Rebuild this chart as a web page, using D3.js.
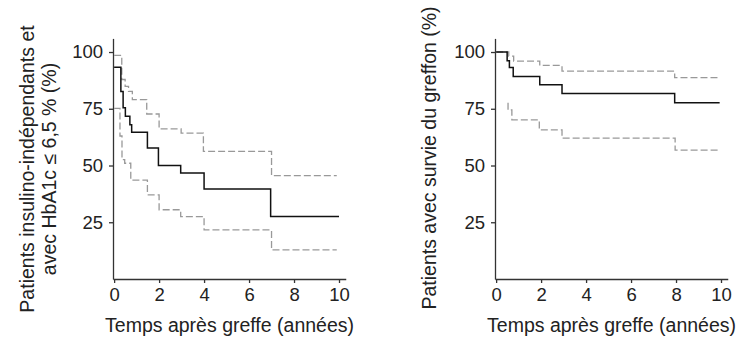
<!DOCTYPE html>
<html><head><meta charset="utf-8">
<script src="https://cdn.jsdelivr.net/npm/d3@7"></script>
<style>body{margin:0;background:#fff}svg{display:block}text{font-family:"Liberation Sans",Arial,sans-serif}</style>
</head><body>
<svg id="c" width="750" height="350"></svg>
<script>
// Panel A: insulin independence with HbA1c <= 6.5 %
const leftEstTimes  = [0, 0.3, 0.4, 0.5, 0.7, 0.78, 1.48, 1.97, 2.96, 4.0, 6.96, 10];
const leftEstValues = [93.3, 82.6, 75.4, 71.7, 68, 64.6, 57.7, 50, 46.7, 39.6, 27.5, 27.5];
const leftUpTimes   = [0, 0.34, 0.49, 0.64, 0.81, 1.45, 2.0, 2.98, 3.97, 7.0, 9.9];
const leftUpValues  = [98.5, 87.9, 84.9, 82.7, 79, 72.7, 66.1, 64.3, 56.2, 45.5, 45.5];
const leftLoTimes   = [0, 0.26, 0.35, 0.47, 0.74, 1.48, 2.0, 2.96, 4.0, 7.0, 9.9];
const leftLoValues  = [75.2, 63, 52.6, 51, 43.6, 37.1, 30.5, 27.5, 21.6, 12.8, 12.8];
// Panel B: graft survival
const rightEstTimes  = [0, 0.49, 0.59, 0.76, 1.94, 2.93, 7.94, 9.94];
const rightEstValues = [100, 96.2, 93.2, 89.2, 85.6, 81.7, 77.7, 77.7];
const rightUpTimes   = [0, 0.56, 0.78, 1.94, 2.93, 7.94, 9.94];
const rightUpValues  = [100, 98.2, 96, 94.1, 91.6, 88.7, 88.7];
const rightLoTimes   = [0.53, 0.53, 0.7, 1.92, 2.93, 7.96, 9.92];
const rightLoValues  = [77.7, 74.5, 70.1, 65.7, 62.1, 56.8, 56.8];

const xTicks = [0, 2, 4, 6, 8, 10];
const yTicks = [25, 50, 75, 100];
const xTitle = "Temps après greffe (années)";
const leftTitle = ["Patients insulino-indépendants et", "avec HbA1c ≤ 6,5 % (%)"];
const rightTitle = ["Patients avec survie du greffon (%)"];

const svg = d3.select("#c");
const zip = (t, v) => t.map((d, i) => ({t: d, v: v[i]}));

function panel(x0, series, titleLines, titleX, titleY) {
  const x = d3.scaleLinear().domain([-0.05, 10.3]).range([x0 - 1, x0 + 231.75]);
  const y = d3.scaleLinear().domain([0, 106]).range([279, 38.4]);
  const g = svg.append("g");
  const xa = g.append("g").attr("transform", "translate(0,279)")
    .call(d3.axisBottom(x).tickValues(xTicks).tickSizeOuter(0).tickSizeInner(4).tickPadding(5));
  const ya = g.append("g").attr("transform", `translate(${x(-0.05)},0)`)
    .call(d3.axisLeft(y).tickValues(yTicks).tickSizeOuter(0).tickSizeInner(4).tickPadding(6));
  [xa, ya].forEach(a => {
    a.selectAll("path,line").attr("stroke", "#333").attr("stroke-width", 1.3);
    a.selectAll("text").attr("font-size", 18.5).attr("fill", "#222")
      .style("font-family", '"Liberation Sans",Arial,sans-serif');
  });
  const line = d3.line().x(d => x(d.t)).y(d => y(d.v)).curve(d3.curveStepAfter);
  series.forEach(s => {
    g.append("path").datum(s.data).attr("d", line).attr("fill", "none")
      .attr("stroke", s.color).attr("stroke-width", s.w)
      .attr("stroke-dasharray", s.dash || null);
  });
  g.append("text").attr("x", x(5) + 3).attr("y", 332).attr("text-anchor", "middle")
    .attr("font-size", 19.5).attr("fill", "#222").text(xTitle);
  titleLines.forEach((t, i) => {
    g.append("text").attr("transform", `translate(${titleX + i * 22.4},${titleY}) rotate(-90)`)
      .attr("text-anchor", "middle").attr("font-size", 19.5).attr("fill", "#222").text(t);
  });
}

panel(114, [
  {data: zip(leftUpTimes, leftUpValues), color: "#999", w: 1.3, dash: "7,3"},
  {data: zip(leftLoTimes, leftLoValues), color: "#999", w: 1.3, dash: "7,3"},
  {data: zip(leftEstTimes, leftEstValues), color: "#111", w: 1.5}
], leftTitle, 33.5, 169);

panel(496, [
  {data: zip(rightUpTimes, rightUpValues), color: "#999", w: 1.3, dash: "7,3"},
  {data: zip(rightLoTimes, rightLoValues), color: "#999", w: 1.3, dash: "7,3"},
  {data: zip(rightEstTimes, rightEstValues), color: "#111", w: 1.5}
], rightTitle, 436, 158);
</script>
</body></html>
